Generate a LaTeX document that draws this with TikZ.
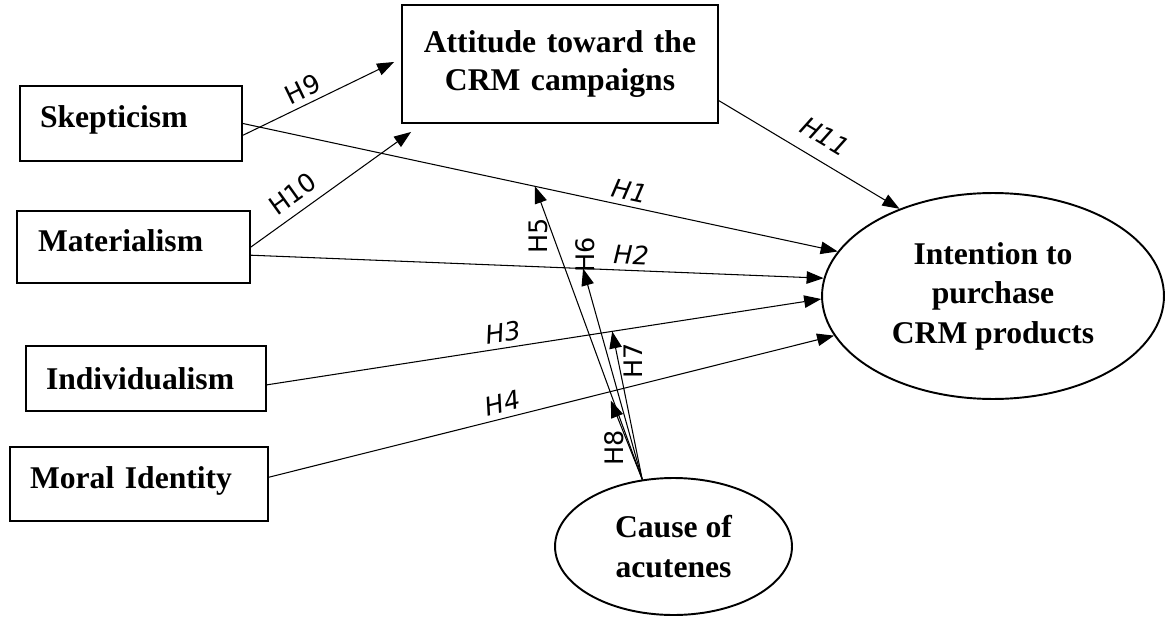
\documentclass[tikz,border=0pt]{standalone}
\usepackage{fontspec}
\setmainfont{Liberation Serif}
\newfontfamily\hfont{DejaVu Sans}
\usetikzlibrary{shapes.geometric, arrows.meta, positioning}

\begin{document}
\begin{tikzpicture}[
  x=0.02cm, y=-0.02cm,
  box/.style={rectangle, draw, line width=1.1pt, align=left, inner xsep=0.4cm,
              font=\fontsize{18}{22}\selectfont\bfseries},
  lift/.style={text height=0.5cm, text depth=0.32cm},
  oval/.style={ellipse, draw, line width=1.1pt, align=center, inner sep=0pt,
               font=\fontsize{18}{22.5}\selectfont\bfseries},
  arrow/.style={-{Triangle[length=0.34cm, width=0.25cm]}, line width=0.6pt},
  hyp/.style={font=\hfont\fontsize{14.5}{16}\selectfont, inner sep=3pt}
]
  \useasboundingbox (0,0) rectangle (1165,618);
  \node[box, lift, text width=3.64cm, minimum height=1.5cm] (skep) at (131,123.5) {Skepticism};
  \node[box, lift, text width=3.82cm, inner xsep=0.42cm, minimum height=1.44cm] (mat) at (133.5,247) {Materialism};
  \node[box, text width=4.0cm, minimum height=1.3cm] (ind) at (146,378.5) {Individualism};
  \node[box, lift, text width=4.36cm, minimum height=1.48cm] (moral) at (139,484) {Moral Identity};
  \node[box, align=center, text width=5.52cm, minimum height=2.36cm] (att) at (560,64) {Attitude toward the\\CRM campaigns};
  \node[oval, minimum width=6.84cm, minimum height=4.12cm] (int) at (993,296) {Intention to\\purchase\\CRM products};
  \node[oval, minimum width=4.74cm, minimum height=2.74cm] (cause) at (673.5,546.5) {Cause of\\acutenes};
  \draw[arrow] (skep.-6) -- node[hyp, pos=0.44, sloped, above] {H9} ([shift={(-7,-2)}]att.west);
  \draw[arrow] (mat.east) -- node[hyp, pos=0.33, sloped, above=2pt] {H10} ([shift={(10,8)}]att.south west);
  \draw[arrow] (skep.east) -- coordinate[pos=0.491] (m1) node[hyp, pos=0.645, sloped, above] {\itshape H1} (int.164);
  \draw[arrow] (mat.-4) -- coordinate[pos=0.58] (m2) node[hyp, pos=0.663, sloped, above] {\itshape H2} (int.174);
  \draw[arrow] (ind.-3) -- coordinate[pos=0.623] (m3) node[hyp, pos=0.43, sloped, above] {\itshape H3} (int.181);
  \draw[arrow] (moral.3) -- coordinate[pos=0.605] (m4) node[hyp, pos=0.42, sloped, above] {\itshape H4} (int.194);
  \draw[arrow] (att.-13) -- node[hyp, pos=0.52, sloped, above=5pt] {\itshape H11} (int.137);
  \draw[arrow] (cause.115) -- node[hyp, pos=0.83, rotate=90, anchor=south] {H5} (m1);
  \draw[arrow] (cause.115) -- node[hyp, pos=0.97, rotate=90, anchor=west, inner sep=1pt] {H6} (m2);
  \draw[arrow] (cause.115) -- node[hyp, pos=0.8, rotate=90, anchor=north] {H7} (m3);
  \draw[arrow] (cause.115) -- node[hyp, pos=0.4, rotate=90, anchor=south] {H8} ([shift={(0,9)}]m4);
\end{tikzpicture}
\end{document}
